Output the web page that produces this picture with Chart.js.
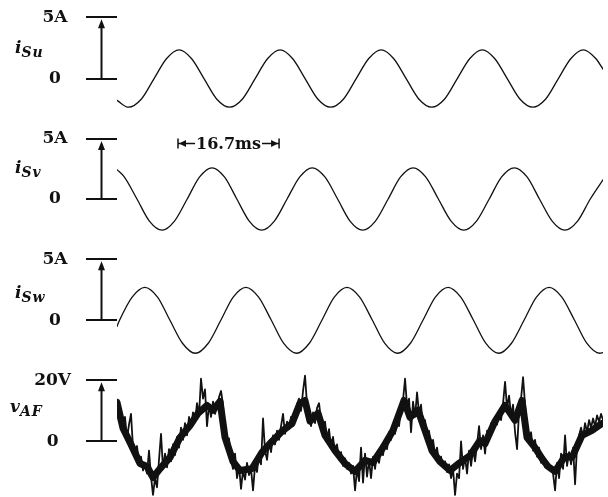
<!DOCTYPE html>
<html>
<head>
<meta charset="utf-8">
<script src="https://cdn.jsdelivr.net/npm/chart.js@4.4.1/dist/chart.umd.min.js"></script>
<style>
  html, body { margin: 0; padding: 0; background: #fff; overflow: hidden; }
  #wrap { position: relative; width: 608px; height: 497px; }
  #wrap canvas { position: absolute; left: 0; }
  .name {
    position: absolute;
    font-family: 'DejaVu Serif', serif;
    font-style: italic;
    font-weight: bold;
    font-size: 17px;
    line-height: 17px;
    color: #111;
    white-space: nowrap;
  }
  .name sub { font-size: 14px; letter-spacing: 1px; vertical-align: -4px; line-height: 0; }
</style>
</head>
<body>
<div id="wrap">
  <canvas id="c-su" width="608" height="122" style="top:0px"></canvas>
  <canvas id="c-sv" width="608" height="120" style="top:121px"></canvas>
  <canvas id="c-sw" width="608" height="122" style="top:241px"></canvas>
  <canvas id="c-af" width="608" height="133" style="top:365px"></canvas>
  <div class="name" style="left:15px;top:39px">i<sub>Su</sub></div>
  <div class="name" style="left:15px;top:159px">i<sub>Sv</sub></div>
  <div class="name" style="left:15px;top:284px">i<sub>Sw</sub></div>
  <div class="name" style="left:10px;top:398px">v<sub>AF</sub></div>
</div>
<script>
// --- Data (time in ms, currents in A, voltage in V) ---
const tMax = 80.3;

const suTime = [0, 1.9, 4.0, 6.1, 8.2, 10.25, 12.3, 14.4, 16.5, 18.6, 20.7, 22.8, 24.9, 26.95, 29.0, 31.1, 33.2, 35.3, 37.4, 39.5,
  41.6, 43.65, 45.7, 47.8, 49.9, 52.0, 54.1, 56.2, 58.3, 60.35, 62.4, 64.5, 66.6, 68.7, 70.8, 72.9, 75.0, 77.05, 79.1, 80.3];
const suAmps = [-1.75, -2.3, -1.65, 0, 1.65, 2.35, 1.65, 0, -1.65, -2.3, -1.65, 0, 1.65, 2.35, 1.65, 0, -1.65, -2.3, -1.65, 0,
  1.65, 2.35, 1.65, 0, -1.65, -2.3, -1.65, 0, 1.65, 2.35, 1.65, 0, -1.65, -2.3, -1.65, 0, 1.65, 2.35, 1.65, 0.8];

const svTime = [0, 1.2, 3.3, 5.35, 7.45, 9.5, 11.6, 13.65, 15.7, 17.75, 19.8, 21.85, 23.9, 26.0, 28.1, 30.2, 32.25, 34.35, 36.45, 38.5,
  40.6, 42.7, 44.8, 46.85, 48.95, 51.0, 53.1, 55.2, 57.3, 59.4, 61.5, 63.55, 65.65, 67.75, 69.8, 71.9, 74.0, 76.1, 78.2, 80.3];
const svAmps = [2.45, 1.84, 0, -1.84, -2.6, -1.84, 0, 1.84, 2.6, 1.84, 0, -1.84, -2.6, -1.84, 0, 1.84, 2.6, 1.84, 0, -1.84,
  -2.6, -1.84, 0, 1.84, 2.6, 1.84, 0, -1.84, -2.6, -1.84, 0, 1.84, 2.6, 1.84, 0, -1.84, -2.6, -1.84, 0, 1.6];

const swTime = [0, 0.42, 2.5, 4.6, 6.7, 8.75, 10.85, 12.95, 15.05, 17.15, 19.2, 21.3, 23.4, 25.5, 27.55, 29.65, 31.75, 33.85, 35.9, 38.0,
  40.1, 42.2, 44.25, 46.35, 48.45, 50.55, 52.6, 54.7, 56.8, 58.9, 60.95, 63.05, 65.15, 67.25, 69.3, 71.4, 73.5, 75.6, 77.65, 79.75, 80.3];
const swAmps = [-0.5, 0, 1.9, 2.7, 1.9, 0, -1.9, -2.7, -1.9, 0, 1.9, 2.7, 1.9, 0, -1.9, -2.7, -1.9, 0, 1.9, 2.7,
  1.9, 0, -1.9, -2.7, -1.9, 0, 1.9, 2.7, 1.9, 0, -1.9, -2.7, -1.9, 0, 1.9, 2.7, 1.9, 0, -1.9, -2.7, -2.65];

// v_AF: mean level of the noisy trace
const vafTrendTime = [0, 0.99, 2.15, 3.80, 4.96, 5.95, 7.11, 8.76, 10.41, 12.06, 13.38, 14.87, 15.86, 17.02, 17.85, 19.17,
  20.32, 22.31, 23.96, 25.61, 27.26, 28.92, 30.24, 31.06, 31.89, 33.21, 34.37, 36.02, 37.67, 39.33, 40.98, 42.30,
  43.95, 45.60, 46.76, 47.42, 48.41, 49.74, 50.89, 52.05, 53.37, 55.02, 56.68, 58.33, 59.98, 60.81, 62.46, 64.11,
  65.76, 66.92, 67.75, 69.07, 70.23, 71.22, 72.37, 74.02, 75.18, 76.84, 78.49, 80.14];
const vafTrendVolts = [12.8, 4.3, -0.3, -7.2, -8.2, -11.8, -8.9, -5.2, 1.3, 5.2, 9.2, 11.8, 10.2, 13.1, 1.3, -6.6,
  -9.5, -8.9, -3.6, 0, 3.3, 5.9, 12.5, 13.4, 6.6, 9.2, 2.0, -3.0, -7.2, -9.8, -6.2, -6.9,
  -2.0, 3.6, 9.8, 13.4, 7.9, 10.2, 3.6, -3.0, -6.6, -9.5, -6.9, -4.6, 0.3, -0.7, 6.6, 11.8,
  6.9, 13.4, 1.3, -2.0, -5.6, -8.2, -9.8, -4.9, -5.2, 2.0, 3.6, 5.9];

// v_AF: raw samples with the switching noise, one every vafStep ms
const vafStep = 0.3305;
const vafVolts = [
  13.5, 12.0, 9.5, 4.0, 8.0, 1.0, 5.5, 9.0, -2.0, -4.0, -1.5, -7.0, -5.0, -9.5, -7.5, -10.5, -3.0,
  -11.5, -17.5, -12.0, -15.0, -6.0, 2.5, -9.0, -4.0, -8.5, -2.5, -6.5, -1.0, -4.5, 1.5, -2.0, 4.5,
  0.5, 6.0, 2.0, 8.0, 4.5, 9.5, 6.5, 12.5, 8.5, 20.5, 14.0, 17.0, 5.0, 12.0, 8.0, 13.0, 9.0,
  11.5, 14.5, 16.5, 12.0, 2.0, -3.0, 1.0, -6.0, -9.0, -4.0, -12.0, -8.0, -15.5, -9.5, -12.5, -7.0,
  -11.0, -9.0, -16.0, -8.0, -10.0, -4.0, -7.5, 7.5, -3.0, -6.0, 0.0, -3.5, 2.0, -1.0, 3.5, 0.5,
  5.0, 9.0, 2.5, 6.5, 4.0, 8.0, 5.0, 9.5, 12.0, 14.0, 10.0, 16.5, 21.5, 12.0, 8.0, 5.0, 9.5,
  6.0, 11.0, 12.5, 7.0, 3.0, 6.5, 0.5, 4.0, -2.0, 1.5, -4.0, -1.0, -6.0, -3.5, -8.0, -5.5,
  -9.0, -7.0, -10.5, -8.0, -16.0, -9.0, -13.0, -2.0, -13.5, -4.0, -11.5, -6.0, -12.0, -5.0, -9.0, -3.5,
  -7.0, -2.0, -4.5, 0.5, -2.5, 3.0, 0.5, 5.5, 2.5, 8.0, 5.0, 11.0, 13.5, 20.5, 11.5, 14.0, 3.0,
  13.0, 8.0, 16.0, 9.0, 12.0, 4.0, 7.0, 1.5, 3.5, -2.0, 0.5, -4.5, -2.0, -7.0, -5.0, -8.5, -6.5,
  -10.0, -7.5, -12.0, -9.0, -17.5, -10.5, -12.0, 0.0, -9.0, -5.0, -10.5, -3.0, -8.0, -2.5, -6.5, -1.0,
  5.0, -2.5, 2.0, -4.0, 3.5, 1.0, 6.0, 3.5, 8.0, 5.5, 9.5, 7.0, 12.5, 19.5, 11.0, 15.0, 8.5,
  12.0, 3.0, -2.5, 10.0, 14.0, 21.0, 12.0, 4.0, 0.0, 3.0, -3.0, 0.5, -5.0, -2.0, -7.0, -5.0,
  -8.5, -7.5, -9.0, -8.0, -10.5, -16.0, -7.0, -12.0, -4.0, -9.0, 2.0, -8.0, -3.5, -7.5, -2.0, -14.0,
  -1.5, 2.0, 4.5, 1.5, 6.0, 3.0, 7.0, 4.5, 7.5, 5.0, 8.5, 6.5, 9.0, 7.0
];

// scale bars (tick values and labels)
const ampTicks = [0, 5];
const ampTickLabels = ['0', '5A'];
const voltTicks = [0, 20];
const voltTickLabels = ['0', '20V'];

// period marker on i_Sv
const periodMs = 16.7;
const periodStart = 10.08;
const periodLevel = 4.67;

const ink = '#111';
const serif = "'DejaVu Serif', serif";

// --- Plugins ---
const scaleArrow = {
  id: 'scaleArrow',
  afterDraw(chart) {
    const ys = chart.scales.y;
    const ctx = chart.ctx;
    const x = chart.chartArea.left - 15.5;
    const top = ys.getPixelForValue(ys.ticks[ys.ticks.length - 1].value);
    const bot = ys.getPixelForValue(0);
    ctx.save();
    ctx.strokeStyle = ink;
    ctx.fillStyle = ink;
    ctx.lineWidth = 2;
    ctx.beginPath();
    ctx.moveTo(x, bot);
    ctx.lineTo(x, top + 8);
    ctx.stroke();
    ctx.beginPath();
    ctx.moveTo(x, top + 2);
    ctx.lineTo(x - 3.5, top + 11);
    ctx.lineTo(x + 3.5, top + 11);
    ctx.closePath();
    ctx.fill();
    ctx.restore();
  }
};

const periodMark = {
  id: 'periodMark',
  afterDraw(chart) {
    const xs = chart.scales.x, ys = chart.scales.y, ctx = chart.ctx;
    const x1 = xs.getPixelForValue(periodStart);
    const x2 = xs.getPixelForValue(periodStart + periodMs);
    const y = Math.round(ys.getPixelForValue(periodLevel)) + 0.5;
    const label = periodMs + 'ms';
    ctx.save();
    ctx.font = 'bold 16px ' + serif;
    const w = ctx.measureText(label).width;
    const mid = (x1 + x2) / 2;
    ctx.strokeStyle = ink;
    ctx.fillStyle = ink;
    ctx.lineWidth = 1.5;
    ctx.beginPath();
    ctx.moveTo(x1, y - 5); ctx.lineTo(x1, y + 5);
    ctx.moveTo(x2, y - 5); ctx.lineTo(x2, y + 5);
    ctx.moveTo(x1, y); ctx.lineTo(mid - w / 2 - 1, y);
    ctx.moveTo(mid + w / 2 + 1, y); ctx.lineTo(x2, y);
    ctx.stroke();
    ctx.beginPath();
    ctx.moveTo(x1 + 1, y); ctx.lineTo(x1 + 8, y - 3.5); ctx.lineTo(x1 + 8, y + 3.5); ctx.closePath();
    ctx.moveTo(x2 - 1, y); ctx.lineTo(x2 - 8, y - 3.5); ctx.lineTo(x2 - 8, y + 3.5); ctx.closePath();
    ctx.fill();
    ctx.textAlign = 'center';
    ctx.textBaseline = 'middle';
    ctx.fillText(label, mid, y + 1);
    ctx.restore();
  }
};

// --- Chart builder ---
function trace(points, width, smooth) {
  return {
    data: points,
    borderColor: ink,
    borderWidth: width,
    borderJoinStyle: 'round',
    borderCapStyle: 'round',
    pointRadius: 0,
    cubicInterpolationMode: smooth ? 'monotone' : 'default',
    tension: 0,
    fill: false,
  };
}

function makePanel(id, datasets, opts) {
  return new Chart(document.getElementById(id), {
    type: 'line',
    data: { datasets },
    options: {
      responsive: false,
      animation: false,
      devicePixelRatio: 1,
      layout: { padding: { left: 0, right: 5, top: 0, bottom: 0 } },
      plugins: { legend: { display: false }, tooltip: { enabled: false } },
      scales: {
        x: { type: 'linear', min: 0, max: tMax, display: false },
        y: {
          type: 'linear',
          min: opts.min,
          max: opts.max,
          afterBuildTicks: s => { s.ticks = opts.ticks.map(v => ({ value: v })); },
          afterFit: s => { s.width = 117; s.paddingTop = 0; s.paddingBottom = 0; },
          border: { display: false },
          grid: { drawOnChartArea: false, drawTicks: true, tickLength: 31, color: ink, lineWidth: 2 },
          ticks: {
            autoSkip: false,
            crossAlign: 'center',
            padding: opts.labelPad,
            color: ink,
            font: { family: serif, size: 17, weight: 'bold' },
            callback: (v, i) => opts.labels[i],
          },
        },
      },
    },
    plugins: [scaleArrow].concat(opts.extra || []),
  });
}

const toPoints = (ts, vs) => ts.map((t, i) => ({ x: t, y: vs[i] }));

makePanel('c-su', [trace(toPoints(suTime, suAmps), 1.3, true)], {
  min: -3.5, max: 6.4, ticks: ampTicks, labels: ampTickLabels, labelPad: 18.5,
});
makePanel('c-sv', [trace(toPoints(svTime, svAmps), 1.3, true)], {
  min: -3.5, max: 6.5, ticks: ampTicks, labels: ampTickLabels, labelPad: 18.5,
  extra: [periodMark],
});
makePanel('c-sw', [trace(toPoints(swTime, swAmps), 1.3, true)], {
  min: -3.5, max: 6.5, ticks: ampTicks, labels: ampTickLabels, labelPad: 18.5,
});
makePanel('c-af', [
  trace(vafVolts.map((v, i) => ({ x: i * vafStep, y: v })), 1.8, false),
  trace(toPoints(vafTrendTime, vafTrendVolts), 7, false),
], {
  min: -18.5, max: 25, ticks: voltTicks, labels: voltTickLabels, labelPad: 15,
});
</script>
</body>
</html>
